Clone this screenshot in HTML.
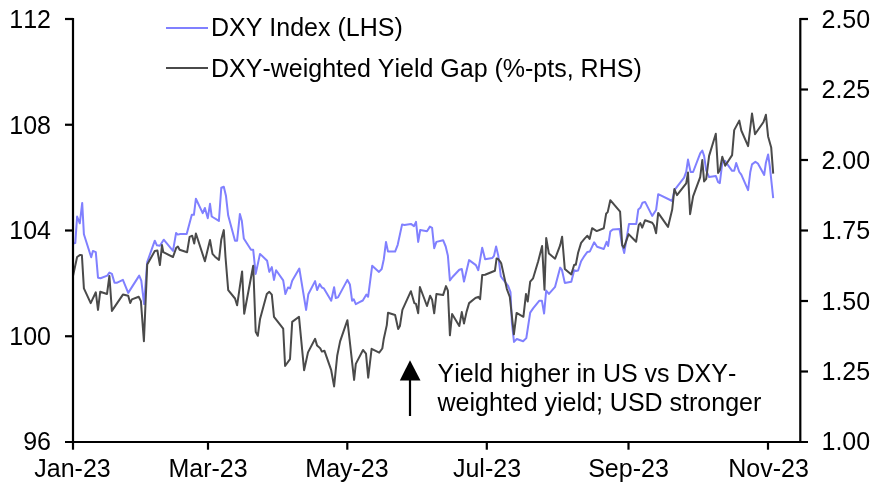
<!DOCTYPE html>
<html>
<head>
<meta charset="utf-8">
<title>DXY Index vs DXY-weighted Yield Gap</title>
<style>
html,body{margin:0;padding:0;background:#fff;}
body{width:884px;height:485px;overflow:hidden;}
svg{display:block;}
text{font-kerning:none;font-family:"Liberation Sans",Arial,Helvetica,sans-serif;font-size:25px;fill:#000;}
</style>
</head>
<body>
<svg width="884" height="485" viewBox="0 0 884 485">
<rect x="0" y="0" width="884" height="485" fill="#ffffff"/>
<!-- series -->
<polyline fill="none" stroke="#8080ff" stroke-width="2" stroke-linejoin="round" stroke-linecap="butt" points="73.1,243.5 75.3,243.1 77.1,216.5 79.8,223.3 82.2,202.9 83.9,234.3 91.2,257.2 92.9,250.9 95.8,252.1 98.0,277.7 100.5,278.2 107.3,275.6 109.4,272.6 111.9,273.9 114.5,282.8 116.7,282.8 122.9,279.9 128.2,292.9 139.2,275.6 141.3,280.7 144.1,304.1 147.2,262.1 154.8,240.7 156.9,245.3 159.9,245.8 163.7,239.7 173.0,250.9 176.1,232.9 177.7,234.6 180.3,234.0 186.7,234.0 191.8,214.8 193.9,214.8 195.9,198.7 202.7,213.1 204.9,208.0 207.8,218.2 210.0,203.8 211.7,216.5 218.9,220.9 221.3,187.6 223.8,186.8 226.0,196.1 228.2,215.6 235.0,240.7 237.1,240.7 239.9,213.9 241.8,220.7 243.8,238.5 251.0,249.8 253.2,249.8 255.7,273.9 260.0,253.9 267.1,260.7 269.3,271.9 271.8,267.1 274.0,279.9 276.1,270.2 283.2,280.4 285.4,294.0 288.0,287.5 290.0,288.4 292.2,280.7 299.3,268.5 306.1,309.9 308.3,294.3 315.1,281.1 317.1,290.1 319.7,284.1 321.9,287.5 323.9,288.4 331.2,300.7 334.1,287.2 335.8,298.0 338.0,297.4 347.4,279.9 349.9,284.5 352.1,300.7 353.8,299.4 355.8,304.1 360.0,301.9 362.8,300.5 366.4,294.6 368.1,296.8 372.2,265.7 379.0,271.9 381.7,269.0 383.8,259.2 386.0,241.9 388.0,251.6 395.1,251.6 397.7,244.8 402.1,224.4 404.5,224.9 410.9,223.9 414.0,226.1 416.0,221.9 418.2,241.9 420.2,230.0 427.0,231.2 429.9,226.6 432.1,227.8 434.2,248.2 436.4,241.9 443.1,240.2 445.7,246.5 447.9,255.8 449.9,280.4 452.5,277.0 459.3,269.7 461.8,269.0 464.0,281.6 469.1,260.1 475.9,265.1 478.3,270.2 482.2,247.7 485.1,259.2 492.4,257.9 494.0,255.8 496.1,246.5 498.3,255.8 500.8,276.2 502.5,278.7 508.1,285.9 510.5,292.2 511.9,322.8 514.0,341.9 516.8,339.0 523.1,341.3 526.3,338.1 528.0,327.0 530.2,312.6 533.1,308.4 539.4,300.7 541.9,300.7 544.1,313.5 546.2,290.5 548.9,293.9 555.1,286.8 560.2,267.6 561.9,269.8 564.8,282.9 571.3,281.7 574.2,270.2 575.8,271.0 578.1,270.5 581.1,261.3 584.5,255.8 587.4,251.9 589.9,251.4 594.2,242.3 597.1,246.8 603.8,249.0 606.6,241.8 608.1,246.0 610.3,231.6 612.8,229.4 619.6,229.0 621.8,243.5 624.2,253.1 629.0,223.9 636.3,223.9 638.3,209.5 640.3,207.8 642.5,202.7 645.1,201.9 652.2,215.9 656.1,210.0 658.2,194.2 672.2,201.0 674.4,190.1 684.1,177.7 686.2,171.8 688.0,159.6 690.6,172.0 693.1,172.0 700.2,153.4 702.3,150.5 704.1,155.9 706.2,170.3 709.1,177.1 715.8,175.9 718.1,182.2 719.8,183.1 722.3,162.7 724.8,160.7 732.1,170.8 734.2,170.8 736.2,163.0 739.3,172.0 741.3,174.6 748.1,190.1 750.3,172.0 752.0,164.4 755.4,161.8 757.9,163.5 764.2,174.9 765.9,162.7 768.1,154.5 769.8,166.1 773.2,198.1"/>
<polyline fill="none" stroke="#4a4a4a" stroke-width="2" stroke-linejoin="round" stroke-linecap="butt" points="73.1,275.6 77.1,257.0 80.2,254.9 81.9,255.3 83.9,288.4 90.7,303.1 95.8,292.3 98.0,309.9 100.2,291.8 107.0,294.0 109.4,276.0 111.9,310.9 122.9,294.6 128.2,295.7 130.2,303.1 131.9,299.4 138.7,296.8 140.9,301.1 143.9,341.2 147.2,264.6 154.8,251.0 157.4,250.5 159.9,265.1 162.0,245.1 163.3,252.2 173.0,257.0 176.2,247.8 177.9,246.6 179.6,249.7 187.1,252.2 189.6,236.8 192.2,235.7 194.2,243.6 195.9,233.5 204.9,261.2 210.0,240.0 212.5,253.9 215.0,256.7 219.0,259.9 221.3,239.4 223.8,230.1 225.5,257.0 228.2,290.1 235.0,298.5 237.1,305.3 242.1,271.4 244.2,313.8 253.2,265.8 255.7,331.7 257.8,335.8 260.0,319.3 266.8,294.0 269.3,291.8 271.8,294.6 274.0,316.8 283.2,328.7 285.1,366.0 290.0,359.2 292.2,321.9 299.0,316.8 304.1,370.2 308.0,352.4 315.1,338.8 317.1,345.6 320.2,348.2 321.9,351.6 324.4,350.7 331.2,370.2 334.1,386.4 337.2,355.8 340.1,341.4 347.4,320.2 354.1,379.9 355.8,363.9 363.0,350.0 366.0,353.6 368.2,377.7 371.6,348.8 379.2,352.6 382.3,348.5 383.8,338.7 386.8,325.1 388.0,312.8 395.1,315.0 398.2,329.0 399.9,326.0 402.4,309.9 410.9,291.2 414.3,303.1 416.0,303.9 418.2,313.3 419.9,287.0 427.0,306.0 430.1,295.8 432.1,299.7 434.2,313.3 436.4,294.1 443.1,295.1 446.0,286.1 447.9,290.7 449.9,335.3 452.1,314.1 459.3,326.0 461.8,312.1 464.0,323.5 466.6,311.6 469.1,303.1 475.4,298.0 478.3,296.8 480.1,299.2 482.2,275.1 485.1,274.8 494.9,270.8 496.6,258.4 498.3,259.2 500.0,261.3 501.3,263.6 506.8,288.8 509.8,297.0 513.9,334.3 516.6,312.9 523.4,316.8 526.0,293.9 527.7,301.6 530.2,281.7 533.1,278.3 538.2,261.3 542.1,246.0 544.5,289.7 546.2,238.0 548.9,253.6 555.1,258.7 560.2,245.1 562.1,236.7 564.8,268.9 571.3,274.4 574.2,264.7 575.8,264.7 578.1,252.8 581.1,242.9 584.8,238.4 587.4,235.8 589.6,238.9 592.1,228.2 596.7,231.1 603.8,228.2 606.1,213.8 607.7,212.1 610.3,200.2 620.1,211.7 622.2,245.1 623.9,247.7 628.6,234.1 636.1,241.8 638.8,224.8 640.3,223.1 642.2,227.7 645.1,220.2 652.2,222.7 653.9,225.2 656.1,233.2 658.2,212.9 668.0,226.9 672.2,209.5 674.4,189.1 677.0,195.2 686.2,183.3 688.0,172.6 690.1,214.2 693.1,196.4 700.2,177.1 702.3,160.1 704.1,181.4 706.2,178.8 709.1,155.9 715.8,133.8 718.1,172.9 719.8,170.3 722.3,156.8 725.2,165.7 732.1,155.1 734.2,130.1 739.3,120.6 741.3,130.5 748.1,146.1 752.0,113.5 755.0,134.2 763.5,122.0 765.9,114.8 768.1,136.4 771.2,147.4 773.2,173.7"/>
<!-- axes -->
<g stroke="#000" stroke-width="2.2" fill="none">
<line x1="73" y1="18" x2="73" y2="443.1"/>
<line x1="800.3" y1="18" x2="800.3" y2="443.1"/>
<line x1="65" y1="442" x2="808" y2="442"/>
<!-- left ticks -->
<line x1="65" y1="19" x2="73" y2="19"/>
<line x1="65" y1="124.75" x2="73" y2="124.75"/>
<line x1="65" y1="230.5" x2="73" y2="230.5"/>
<line x1="65" y1="336.25" x2="73" y2="336.25"/>
<!-- right ticks -->
<line x1="800" y1="19" x2="808" y2="19"/>
<line x1="800" y1="89.5" x2="808" y2="89.5"/>
<line x1="800" y1="160" x2="808" y2="160"/>
<line x1="800" y1="230.5" x2="808" y2="230.5"/>
<line x1="800" y1="301" x2="808" y2="301"/>
<line x1="800" y1="371.5" x2="808" y2="371.5"/>
<!-- bottom ticks -->
<line x1="73" y1="442" x2="73" y2="449.7"/>
<line x1="208" y1="442" x2="208" y2="449.7"/>
<line x1="347.3" y1="442" x2="347.3" y2="449.7"/>
<line x1="486.8" y1="442" x2="486.8" y2="449.7"/>
<line x1="628.5" y1="442" x2="628.5" y2="449.7"/>
<line x1="768" y1="442" x2="768" y2="449.7"/>
</g>
<!-- left labels -->
<g text-anchor="end">
<text x="51" y="27.9">112</text>
<text x="51" y="133.6">108</text>
<text x="51" y="239.4">104</text>
<text x="51" y="345.1">100</text>
<text x="51" y="450.1">96</text>
</g>
<!-- right labels -->
<g text-anchor="start">
<text x="821.5" y="27.9">2.50</text>
<text x="821.5" y="98.4">2.25</text>
<text x="821.5" y="168.9">2.00</text>
<text x="821.5" y="239.4">1.75</text>
<text x="821.5" y="309.9">1.50</text>
<text x="821.5" y="380.4">1.25</text>
<text x="821.5" y="450.1">1.00</text>
</g>
<!-- bottom labels -->
<g text-anchor="middle">
<text x="72.5" y="477">Jan-23</text>
<text x="208" y="477">Mar-23</text>
<text x="347" y="477">May-23</text>
<text x="487" y="477">Jul-23</text>
<text x="628.5" y="477">Sep-23</text>
<text x="768.5" y="477">Nov-23</text>
</g>
<!-- legend -->
<line x1="166" y1="28" x2="208" y2="28" stroke="#8080ff" stroke-width="2"/>
<line x1="166" y1="68" x2="208" y2="68" stroke="#4a4a4a" stroke-width="2"/>
<text x="211" y="36">DXY Index (LHS)</text>
<text x="211" y="76.6">DXY-weighted Yield Gap (%-pts, RHS)</text>
<!-- annotation -->
<polygon points="410,360.3 399.8,380.6 420.5,380.6" fill="#000"/>
<line x1="410" y1="380" x2="410" y2="416" stroke="#000" stroke-width="2.2"/>
<text x="437.5" y="382">Yield higher in US vs DXY-</text>
<text x="437.5" y="410.6">weighted yield; USD stronger</text>
</svg>
</body>
</html>
